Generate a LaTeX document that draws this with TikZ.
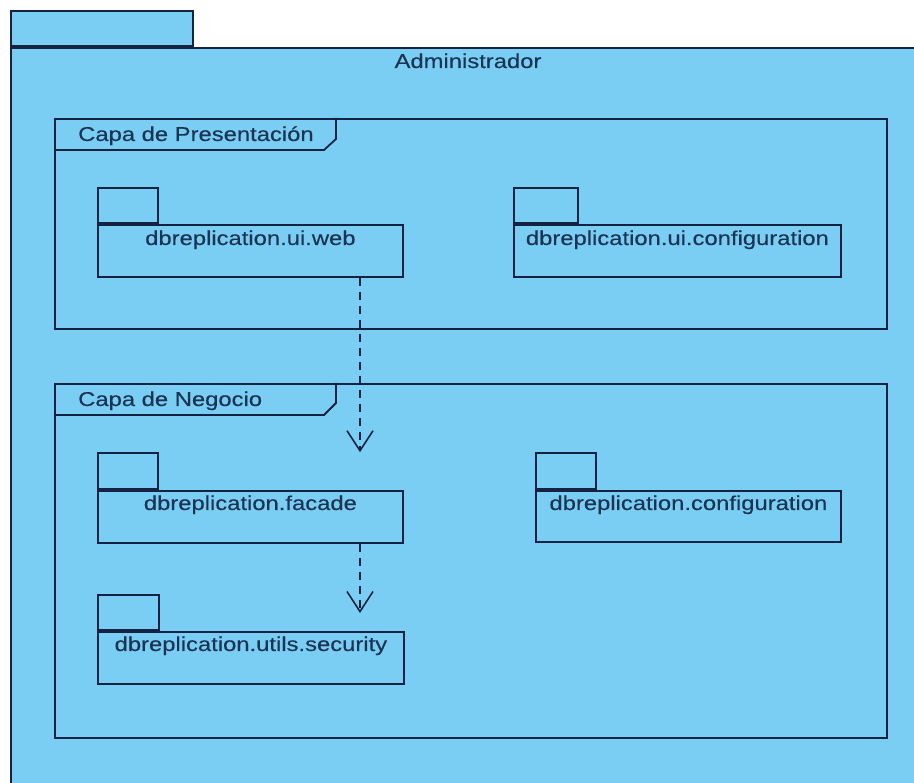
\documentclass[tikz,border=0pt]{standalone}
\usepackage{fontspec}
\setmainfont[FakeStretch=1.19,FakeBold=0.3]{Liberation Sans}
\usetikzlibrary{arrows.meta}
\definecolor{pkgfill}{RGB}{122,206,244}
\definecolor{pkgline}{RGB}{22,34,66}
\definecolor{pkgtext}{RGB}{28,52,84}
\begin{document}
\begin{tikzpicture}[x=1pt,y=-1pt,
  lbl/.style={font=\fontsize{20}{22}\selectfont, text=pkgtext, inner sep=0pt},
  pline/.style={draw=pkgline, line width=1.8pt},
  box/.style={pline, rectangle, inner sep=0pt, fill=pkgfill},
  dep/.style={pline, line width=1.6pt, dash pattern=on 8pt off 6pt, -{Straight Barb[length=20pt,width=26pt]}}]
\useasboundingbox[fill=white] (0,0) rectangle (914,783);
\clip (0,0) rectangle (914,783);
% outer package
\node[box, anchor=north west, minimum width=940pt, minimum height=760pt] (outerbody) at (10,47) {};
\node[box, anchor=south west, minimum width=182pt, minimum height=35pt] (outertab) at (outerbody.north west) {};
\node[lbl, anchor=base] (outertxt) at (468,68) {Administrador};
% frames
\node[pline, rectangle, inner sep=0pt, anchor=north west, minimum width=832pt, minimum height=210pt] (presframe) at (54,118) {};
\draw[pline] (54,150) -- (324,150) -- (336,139) -- (336,118);
\node[lbl, anchor=base west] (prestxt) at (78,141) {Capa de Presentación};
\node[pline, rectangle, inner sep=0pt, anchor=north west, minimum width=832pt, minimum height=354pt] (negframe) at (54,383) {};
\draw[pline] (54,415) -- (324,415) -- (336,403) -- (336,383);
\node[lbl, anchor=base west] (negtxt) at (78,406) {Capa de Negocio};
% packages
\node[box, anchor=north west, minimum width=305pt, minimum height=52pt] (webbody) at (97,224) {};
\node[box, anchor=south west, minimum width=60pt, minimum height=35pt] (webtab) at (webbody.north west) {};
\node[lbl, anchor=base] (webtxt) at ([yshift=-21pt]webbody.north) {dbreplication.ui.web};

\node[box, anchor=north west, minimum width=327pt, minimum height=52pt] (cfgbody) at (513,224) {};
\node[box, anchor=south west, minimum width=64pt, minimum height=35pt] (cfgtab) at (cfgbody.north west) {};
\node[lbl, anchor=base] (cfgtxt) at ([yshift=-21pt]cfgbody.north) {dbreplication.ui.configuration};

\node[box, anchor=north west, minimum width=305pt, minimum height=52pt] (facbody) at (97,490) {};
\node[box, anchor=south west, minimum width=60pt, minimum height=36pt] (factab) at (facbody.north west) {};
\node[lbl, anchor=base] (factxt) at ([yshift=-20pt]facbody.north) {dbreplication.facade};

\node[box, anchor=north west, minimum width=305pt, minimum height=51pt] (bcfgbody) at (535,490) {};
\node[box, anchor=south west, minimum width=60pt, minimum height=36pt] (bcfgtab) at (bcfgbody.north west) {};
\node[lbl, anchor=base] (bcfgtxt) at ([yshift=-20pt]bcfgbody.north) {dbreplication.configuration};

\node[box, anchor=north west, minimum width=306pt, minimum height=52pt] (secbody) at (97,631) {};
\node[box, anchor=south west, minimum width=61pt, minimum height=35pt] (sectab) at (secbody.north west) {};
\node[lbl, anchor=base] (sectxt) at ([yshift=-20pt]secbody.north) {dbreplication.utils.security};
% dependencies
\coordinate (ax) at (360,0);
\coordinate (a2end) at (360,613);
\draw[dep] (webbody.south -| ax) -- (factab.north -| ax);
\draw[dep] (facbody.south -| ax) -- (a2end);
\end{tikzpicture}
\end{document}
